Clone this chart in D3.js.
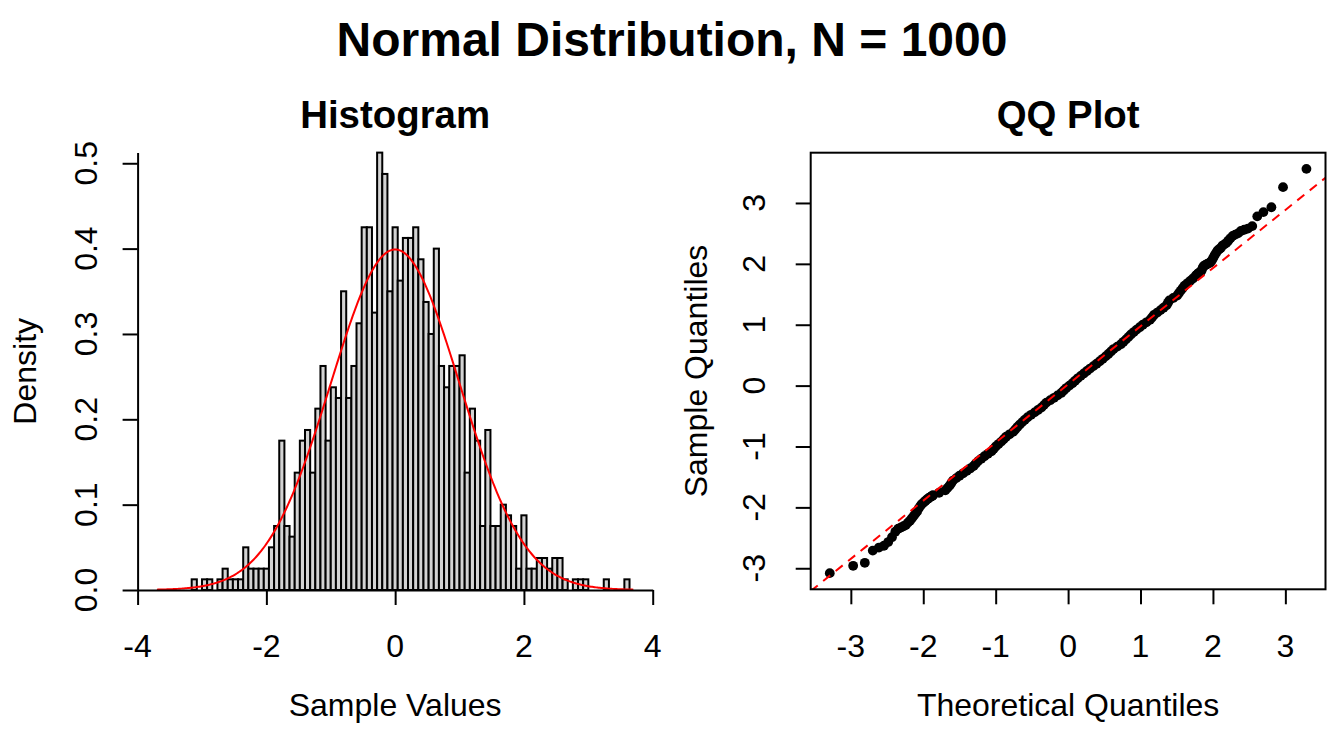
<!DOCTYPE html>
<html>
<head>
<meta charset="utf-8">
<script src="https://cdn.jsdelivr.net/npm/d3@7"></script>
<style>
  html, body { margin: 0; padding: 0; background: #ffffff; }
  svg { display: block; }
  text { font-family: "Liberation Sans", Arial, Helvetica, sans-serif; fill: #000; }
</style>
</head>
<body>
<svg id="chart" width="1344" height="729"></svg>
<script>
// ---------------- DATA ----------------
const mainTitle = "Normal Distribution, N = 1000";
const sampleSize = 1000;

// histogram break points (bin edges)
const breaks = [-3.16,-3.08,-3.00,-2.92,-2.84,-2.76,-2.68,-2.60,-2.52,-2.44,-2.36,-2.28,-2.20,-2.12,-2.04,-1.96,-1.88,-1.80,-1.72,-1.64,-1.56,-1.48,-1.40,-1.32,-1.24,-1.16,-1.08,-1.00,-0.92,-0.84,-0.76,-0.68,-0.60,-0.52,-0.44,-0.36,-0.28,-0.20,-0.12,-0.04,0.04,0.12,0.20,0.28,0.36,0.44,0.52,0.60,0.68,0.76,0.84,0.92,1.00,1.08,1.16,1.24,1.32,1.40,1.48,1.56,1.64,1.72,1.80,1.88,1.96,2.04,2.12,2.20,2.28,2.36,2.44,2.52,2.60,2.68,2.76,2.84,2.92,3.00,3.08,3.16,3.24,3.32,3.40,3.48,3.56,3.64];

// counts per bin
const counts = [1,0,1,1,0,1,2,1,1,1, 4,2,2,2,2, 4,6,14,6,5, 11,14,15,11,17, 21,14,19,18,28, 18,21,25,34,34, 26,41,39,28,34, 29,33,33,34,31, 27,24,32,21,19, 21,21,22,11,17, 14,6,15,6,6, 8,7,6,2,7, 2,2,3,3,2, 3,3,1,0,1, 1,1,0,0,0, 1,0,0,0,1];

const histXTicks = [-4, -2, 0, 2, 4];
const histYTicks = [0, 0.1, 0.2, 0.3, 0.4, 0.5];
const histYTickLabels = ["0.0", "0.1", "0.2", "0.3", "0.4", "0.5"];
const histXDomain = [-4, 4];

// normal density overlay parameters
const curveMean = 0;
const curveSd = 1;
const curveRange = [-3.7, 3.7];

// QQ plot points: [theoretical quantile, sample quantile]
const qqPoints = [
  [-3.291,-3.08],[-2.968,-2.96],[-2.807,-2.91],[-2.697,-2.71],[-2.612,-2.66],[-2.543,-2.63],[-2.484,-2.57],[-2.432,-2.49],[-2.386,-2.40],[-2.346,-2.35],
  [-2.308,-2.33],[-2.273,-2.31],[-2.241,-2.29],[-2.211,-2.25],[-2.183,-2.22],[-2.157,-2.18],[-2.132,-2.14],[-2.108,-2.10],[-2.086,-2.07],[-2.064,-2.02],
  [-2.043,-1.98],[-2.023,-1.95],[-2.005,-1.93],[-1.986,-1.91],[-1.969,-1.89],[-1.951,-1.87],[-1.934,-1.86],[-1.918,-1.84],[-1.903,-1.83],[-1.888,-1.82],[-1.873,-1.81],
  [-1.866,-1.80],[-1.781,-1.76],[-1.695,-1.72],[-1.665,-1.68],[-1.635,-1.64],[-1.612,-1.60],[-1.589,-1.56],[-1.544,-1.52],[-1.499,-1.48],[-1.449,-1.44],
  [-1.398,-1.40],[-1.352,-1.36],[-1.305,-1.32],[-1.274,-1.28],[-1.243,-1.24],[-1.199,-1.20],[-1.155,-1.16],[-1.107,-1.12],[-1.058,-1.08],[-1.029,-1.04],
  [-0.999,-1.00],[-0.961,-0.96],[-0.923,-0.92],[-0.890,-0.88],[-0.856,-0.84],[-0.808,-0.80],[-0.759,-0.76],[-0.730,-0.72],[-0.700,-0.68],[-0.667,-0.64],
  [-0.634,-0.60],[-0.597,-0.56],[-0.559,-0.52],[-0.511,-0.48],[-0.462,-0.44],[-0.416,-0.40],[-0.369,-0.36],[-0.335,-0.32],[-0.300,-0.28],[-0.247,-0.24],
  [-0.194,-0.20],[-0.145,-0.16],[-0.095,-0.12],[-0.060,-0.08],[-0.025,-0.04],[0.018,0.00],[0.060,0.04],[0.097,0.08],[0.133,0.12],[0.175,0.16],
  [0.217,0.20],[0.260,0.24],[0.303,0.28],[0.349,0.32],[0.394,0.36],[0.437,0.40],[0.479,0.44],[0.518,0.48],[0.556,0.52],[0.592,0.56],
  [0.628,0.60],[0.679,0.64],[0.729,0.68],[0.765,0.72],[0.800,0.76],[0.834,0.80],[0.867,0.84],[0.907,0.88],[0.946,0.92],[0.989,0.96],
  [1.032,1.00],[1.082,1.04],[1.131,1.08],[1.158,1.12],[1.185,1.16],[1.231,1.20],[1.276,1.24],[1.318,1.28],[1.359,1.32],[1.379,1.36],
  [1.398,1.40],[1.452,1.44],[1.506,1.48],[1.531,1.52],[1.555,1.56],[1.581,1.60],[1.607,1.64],[1.646,1.68],[1.685,1.72],[1.724,1.76],[1.762,1.80],
  [1.769,1.81],[1.780,1.82],[1.793,1.84],[1.805,1.85],[1.818,1.86],[1.832,1.87],[1.846,1.90],[1.859,1.94],[1.874,1.965],[1.888,1.975],
  [1.903,1.985],[1.918,1.995],[1.934,2.005],[1.951,2.015],[1.969,2.03],[1.986,2.06],[2.005,2.10],[2.023,2.14],[2.043,2.18],[2.064,2.22],
  [2.086,2.24],[2.108,2.26],[2.132,2.30],[2.157,2.32],[2.183,2.34],[2.211,2.38],[2.241,2.42],[2.273,2.46],[2.308,2.48],[2.346,2.50],
  [2.386,2.54],[2.432,2.56],[2.484,2.58],[2.543,2.62],[2.612,2.78],[2.697,2.85],[2.807,2.93],[2.968,3.26],[3.291,3.56]
];
const qqTheoExtent = [-3.291, 3.291];
const qqTicks = [-3, -2, -1, 0, 1, 2, 3];
// reference line (qqline)
const qqLineIntercept = 0.02;
const qqLineSlope = 0.955;

// ---------------- DRAWING ----------------
const svg = d3.select("#chart");
const BLACK = "#000000";

svg.append("rect").attr("width", 1344).attr("height", 729).attr("fill", "#ffffff");

// main title
svg.append("text").attr("x", 672).attr("y", 56).attr("text-anchor", "middle")
  .attr("font-size", 48).attr("font-weight", "bold").text(mainTitle);

// ---------- Histogram panel ----------
const H = { left: 137.6, right: 652.7, top: 152.6, bottom: 590 };
const binWidth = breaks[1] - breaks[0];
const bins = counts.map((c, i) => ({ x0: breaks[i], x1: breaks[i + 1], count: c, density: c / (sampleSize * binWidth) }));
const maxDensity = d3.max(bins, d => d.density);

const hx = d3.scaleLinear().domain(histXDomain).range([H.left, H.right]);
const hy = d3.scaleLinear().domain([0, maxDensity]).range([H.bottom, H.top]);

const gHist = svg.append("g");

gHist.selectAll("rect.bar").data(bins.filter(d => d.count > 0)).enter().append("rect")
  .attr("class", "bar")
  .attr("x", d => hx(d.x0))
  .attr("y", d => hy(d.density))
  .attr("width", d => hx(d.x1) - hx(d.x0))
  .attr("height", d => hy(0) - hy(d.density))
  .attr("fill", "#d3d3d3")
  .attr("stroke", BLACK)
  .attr("stroke-width", 2);

// normal curve
const curvePts = d3.range(curveRange[0], curveRange[1] + 1e-9, 0.02).map(x => [x,
  Math.exp(-0.5 * Math.pow((x - curveMean) / curveSd, 2)) / (curveSd * Math.sqrt(2 * Math.PI))]);
gHist.append("path").datum(curvePts)
  .attr("d", d3.line().x(d => hx(d[0])).y(d => hy(d[1])))
  .attr("fill", "none").attr("stroke", "#ff0000").attr("stroke-width", 2);

// axes
const tickLen = 15;
const hxAxis = gHist.append("g").attr("transform", `translate(0,${H.bottom})`)
  .call(d3.axisBottom(hx).tickValues(histXTicks).tickSize(tickLen).tickSizeOuter(0).tickFormat(""));
const hyAxis = gHist.append("g").attr("transform", `translate(${H.left},0)`)
  .call(d3.axisLeft(hy).tickValues(histYTicks).tickSize(tickLen).tickSizeOuter(0).tickFormat(""));
[hxAxis, hyAxis].forEach(a => {
  a.selectAll("path, line").attr("stroke", BLACK).attr("stroke-width", 2);
});

gHist.selectAll("text.hxt").data(histXTicks).enter().append("text")
  .attr("class", "hxt").attr("x", d => hx(d)).attr("y", 657)
  .attr("text-anchor", "middle").attr("font-size", 32).text(d => d);
gHist.selectAll("text.hyt").data(histYTicks).enter().append("text")
  .attr("class", "hyt").attr("transform", d => `translate(97,${hy(d)}) rotate(-90)`)
  .attr("text-anchor", "middle").attr("font-size", 32).text((d, i) => histYTickLabels[i]);

gHist.append("text").attr("x", (H.left + H.right) / 2).attr("y", 128)
  .attr("text-anchor", "middle").attr("font-size", 38.4).attr("font-weight", "bold").text("Histogram");
gHist.append("text").attr("x", (H.left + H.right) / 2).attr("y", 716)
  .attr("text-anchor", "middle").attr("font-size", 32).text("Sample Values");
gHist.append("text").attr("transform", `translate(36,${(H.top + H.bottom) / 2}) rotate(-90)`)
  .attr("text-anchor", "middle").attr("font-size", 32).text("Density");

// ---------- QQ panel ----------
const Q = { left: 810.7, right: 1325.5, top: 152.7, bottom: 589.3 };
const sampExt = d3.extent(qqPoints, d => d[1]);
const padT = 0.04 * (qqTheoExtent[1] - qqTheoExtent[0]);
const padS = 0.04 * (sampExt[1] - sampExt[0]);
const qx = d3.scaleLinear().domain([qqTheoExtent[0] - padT, qqTheoExtent[1] + padT]).range([Q.left, Q.right]);
const qy = d3.scaleLinear().domain([sampExt[0] - padS, sampExt[1] + padS]).range([Q.bottom, Q.top]);

const gQQ = svg.append("g");
svg.append("defs").append("clipPath").attr("id", "qqclip").append("rect")
  .attr("x", Q.left).attr("y", Q.top).attr("width", Q.right - Q.left).attr("height", Q.bottom - Q.top);

gQQ.append("g").attr("clip-path", "url(#qqclip)").selectAll("circle").data(qqPoints).enter().append("circle")
  .attr("cx", d => qx(d[0])).attr("cy", d => qy(d[1])).attr("r", 4.9).attr("fill", BLACK);

const lx0 = qx.domain()[0], lx1 = qx.domain()[1];
gQQ.append("line").attr("clip-path", "url(#qqclip)")
  .attr("x1", qx(lx0)).attr("y1", qy(qqLineIntercept + qqLineSlope * lx0))
  .attr("x2", qx(lx1)).attr("y2", qy(qqLineIntercept + qqLineSlope * lx1))
  .attr("stroke", "#ff0000").attr("stroke-width", 2).attr("stroke-dasharray", "9,7");

gQQ.append("rect").attr("x", Q.left).attr("y", Q.top).attr("width", Q.right - Q.left).attr("height", Q.bottom - Q.top)
  .attr("fill", "none").attr("stroke", BLACK).attr("stroke-width", 2);

const qxAxis = gQQ.append("g").attr("transform", `translate(0,${Q.bottom})`)
  .call(d3.axisBottom(qx).tickValues(qqTicks).tickSize(tickLen).tickSizeOuter(0).tickFormat(""));
const qyAxis = gQQ.append("g").attr("transform", `translate(${Q.left},0)`)
  .call(d3.axisLeft(qy).tickValues(qqTicks).tickSize(tickLen).tickSizeOuter(0).tickFormat(""));
[qxAxis, qyAxis].forEach(a => {
  a.select("path.domain").remove();
  a.selectAll("line").attr("stroke", BLACK).attr("stroke-width", 2);
});

gQQ.selectAll("text.qxt").data(qqTicks).enter().append("text")
  .attr("class", "qxt").attr("x", d => qx(d)).attr("y", 657)
  .attr("text-anchor", "middle").attr("font-size", 32).text(d => d);
gQQ.selectAll("text.qyt").data(qqTicks).enter().append("text")
  .attr("class", "qyt").attr("transform", d => `translate(765,${qy(d)}) rotate(-90)`)
  .attr("text-anchor", "middle").attr("font-size", 32).text(d => d);

gQQ.append("text").attr("x", (Q.left + Q.right) / 2).attr("y", 128)
  .attr("text-anchor", "middle").attr("font-size", 38.4).attr("font-weight", "bold").text("QQ Plot");
gQQ.append("text").attr("x", (Q.left + Q.right) / 2).attr("y", 716)
  .attr("text-anchor", "middle").attr("font-size", 32).text("Theoretical Quantiles");
gQQ.append("text").attr("transform", `translate(707,${(Q.top + Q.bottom) / 2}) rotate(-90)`)
  .attr("text-anchor", "middle").attr("font-size", 32).text("Sample Quantiles");
</script>
</body>
</html>
